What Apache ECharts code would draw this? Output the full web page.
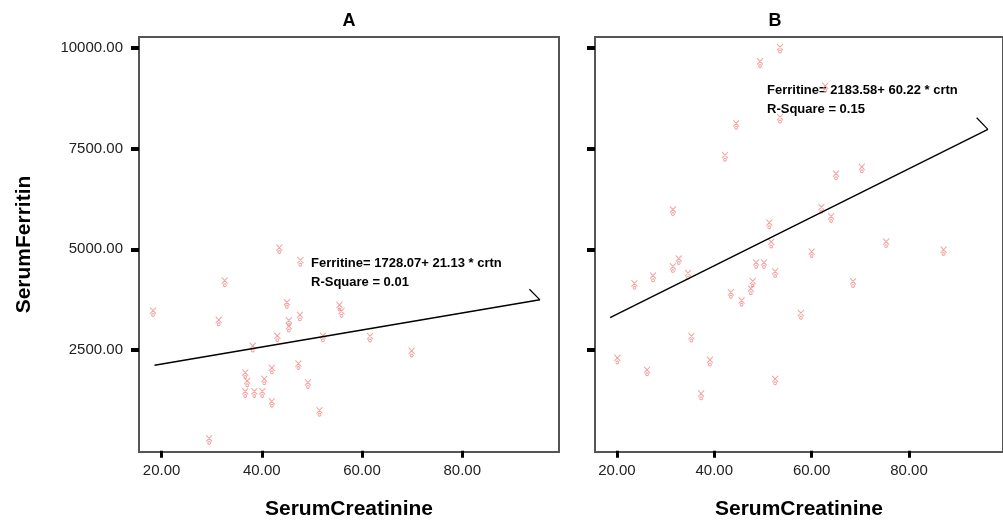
<!DOCTYPE html>
<html lang="en">
<head>
    <meta charset="UTF-8">
    <title>Serum Ferritin vs Serum Creatinine</title>
    <script type="text/javascript" src="https://cdn.jsdelivr.net/npm/echarts@6/dist/echarts.min.js"></script>
    <style>
        html, body { margin: 0; padding: 0; background: #fff; }
        #main { width: 1003px; height: 525px; }
    </style>
</head>
<body>
<div id="main"></div>
<script type="text/javascript">
    // panel A: creatinine / ferritin pairs
    var creatA = [18.3, 32.6, 43.5, 47.7, 31.4, 45.0, 47.6, 45.4, 45.4, 55.5, 55.9, 43.1, 52.2, 61.6,
        38.2, 69.9, 36.7, 37.1, 40.5, 42.0, 47.3, 49.2, 36.7, 38.5, 40.1, 42.0, 51.5, 29.5];
    var ferrA = [3447, 4187, 5009, 4696, 3215, 3652, 3339, 3201, 3060, 3585, 3430, 2821, 2821, 2813,
        2567, 2443, 1908, 1703, 1752, 2024, 2130, 1661, 1439, 1439, 1439, 1193, 970, 272];
    // panel B
    var creatB = [53.5, 49.4, 62.8, 53.5, 44.5, 42.2, 70.3, 65.0, 31.5, 62.0, 64.0, 51.3, 51.7, 75.3,
        87.1, 60.0, 32.7, 31.5, 23.6, 27.4, 34.6, 48.6, 50.2, 52.5, 47.9, 47.5, 43.4, 45.6,
        68.5, 57.8, 35.3, 20.1, 39.1, 26.2, 52.5, 37.3];
    var ferrB = [9985, 9630, 9023, 8248, 8093, 7303, 7015, 6842, 5954, 6013, 5781, 5626, 5150, 5157,
        4960, 4910, 4738, 4540, 4121, 4311, 4375, 4639, 4639, 4417, 4178, 3990, 3899, 3701,
        4170, 3381, 2813, 2271, 2221, 1975, 1752, 1382];
    // fit lines (end points) and the little end hook
    var fitA = [[18.6, 2121], [95.5, 3746]];
    var hookA = [[93.4, 4010], [95.5, 3746]];
    var fitB = [[18.6, 3304], [96.2, 7977]];
    var hookB = [[93.9, 8265], [96.2, 7977]];
    var xTicks = [20, 40, 60, 80];
    var yTicks = [2500, 5000, 7500, 10000];
    var eqA = ['Ferritine= 1728.07+ 21.13 * crtn', 'R-Square = 0.01'];
    var eqB = ['Ferritine= 2183.58+ 60.22 * crtn', 'R-Square = 0.15'];

    function zip(xs, ys) {
        var out = [];
        for (var i = 0; i < xs.length; i++) out.push([xs[i], ys[i]]);
        return out;
    }

    var font = 'Liberation Sans, Arial, sans-serif';
    var pink = '#f08c8c';
    var mark = 'path://M1,0 L9,9 M9,0 L1,9 M5,9 A2,2 0 1,0 5.01,9';

    function xAxis(idx) {
        return {
            gridIndex: idx, type: 'value', min: 15.5, max: 99.3,
            name: 'SerumCreatinine', nameLocation: 'middle', nameGap: 47,
            nameTextStyle: { fontFamily: font, fontWeight: 'bold', fontSize: 21, color: '#000' },
            axisLine: { show: false },
            axisTick: { show: true, length: 7, customValues: xTicks, lineStyle: { color: '#000', width: 3 } },
            axisLabel: { customValues: xTicks, margin: 11, fontFamily: font, fontSize: 15, color: '#222',
                formatter: function (v) { return v.toFixed(2); } },
            splitLine: { show: false }
        };
    }
    function yAxis(idx, labels) {
        return {
            gridIndex: idx, type: 'value', min: -30, max: 10270,
            name: labels ? 'SerumFerritin' : '', nameLocation: 'middle', nameGap: 104,
            nameTextStyle: { fontFamily: font, fontWeight: 'bold', fontSize: 21, color: '#000' },
            axisLine: { show: false },
            axisTick: { show: true, length: 8, customValues: yTicks, lineStyle: { color: '#000', width: 4 } },
            axisLabel: { show: labels, customValues: yTicks, margin: 16, fontFamily: font, fontSize: 15, color: '#222',
                formatter: function (v) { return v.toFixed(2); } },
            splitLine: { show: false }
        };
    }
    function pts(idx, data) {
        return {
            type: 'scatter', xAxisIndex: idx, yAxisIndex: idx, data: data,
            symbol: mark, symbolSize: [6, 9], silent: true,
            itemStyle: { color: 'rgba(0,0,0,0)', borderColor: pink, borderWidth: 1 }
        };
    }
    function line(idx, data, w) {
        return {
            type: 'line', xAxisIndex: idx, yAxisIndex: idx, data: data,
            symbol: 'none', silent: true, lineStyle: { color: '#000', width: w }
        };
    }
    function eqText(x, y, lines) {
        return {
            type: 'text', x: x, y: y, silent: true,
            style: { text: lines.join('\n'), lineHeight: 19, fontFamily: font, fontWeight: 'bold',
                fontSize: 13, fill: '#000' }
        };
    }

    var chart = echarts.init(document.getElementById('main'));
    var option = {
        animation: false,
        backgroundColor: '#fff',
        grid: [
            { left: 139, top: 37, width: 420, height: 417, show: true, borderColor: '#555', borderWidth: 2 },
            { left: 595, top: 37, width: 420, height: 417, show: true, borderColor: '#555', borderWidth: 2 }
        ],
        xAxis: [xAxis(0), xAxis(1)],
        yAxis: [yAxis(0, true), yAxis(1, false)],
        graphic: [
            { type: 'text', x: 349, y: 12, style: { text: 'A', align: 'center', fontFamily: font, fontWeight: 'bold', fontSize: 18, fill: '#000' } },
            { type: 'text', x: 775, y: 12, style: { text: 'B', align: 'center', fontFamily: font, fontWeight: 'bold', fontSize: 18, fill: '#000' } },
            eqText(311, 254, eqA),
            eqText(767, 81, eqB)
        ],
        series: [
            pts(0, zip(creatA, ferrA)),
            line(0, fitA, 1.5),
            line(0, hookA, 1.2),
            pts(1, zip(creatB, ferrB)),
            line(1, fitB, 1.5),
            line(1, hookB, 1.2)
        ]
    };
    chart.setOption(option);
</script>
</body>
</html>
